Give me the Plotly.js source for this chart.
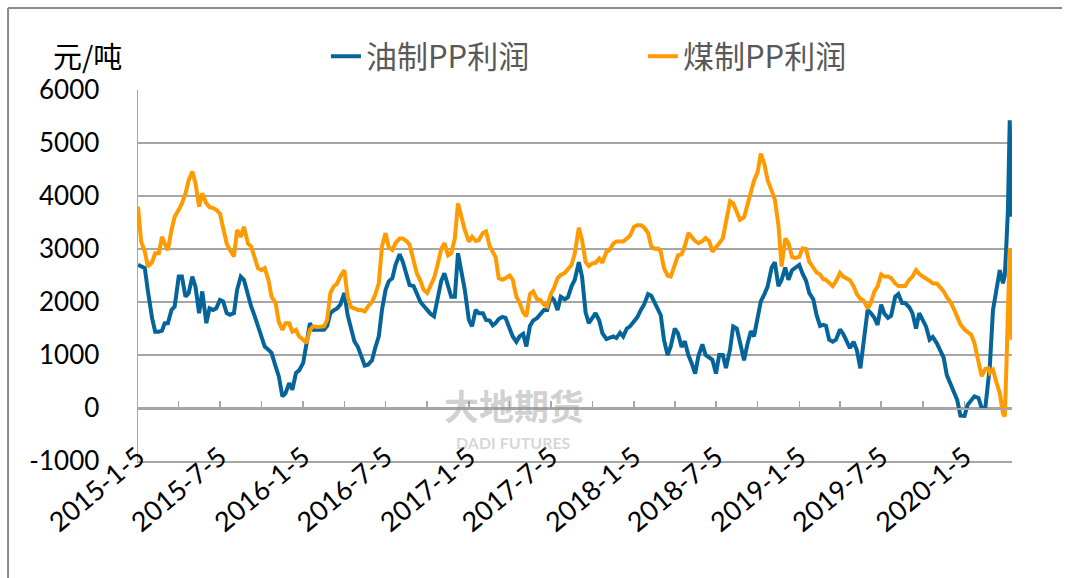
<!DOCTYPE html>
<html><head><meta charset="utf-8">
<script src="https://cdn.plot.ly/plotly-3.0.1.min.js"></script>
<style>html,body{margin:0;padding:0;background:#fff;} #chart{width:1068px;height:578px;}</style>
</head><body><div id="chart"></div>
<script>
const dates = [
"2015-01-05","2015-01-12","2015-01-20","2015-01-27","2015-02-05","2015-02-12","2015-02-20","2015-02-27",
"2015-03-05","2015-03-12","2015-03-20","2015-03-27","2015-04-05","2015-04-12","2015-04-20","2015-04-27",
"2015-05-05","2015-05-12","2015-05-20","2015-05-27","2015-06-05","2015-06-12","2015-06-20","2015-06-27",
"2015-07-05","2015-07-12","2015-07-20","2015-07-27","2015-08-05","2015-08-12","2015-08-20","2015-08-27",
"2015-09-05","2015-09-12","2015-09-20","2015-09-27","2015-10-05","2015-10-12","2015-10-20","2015-10-27",
"2015-11-05","2015-11-12","2015-11-20","2015-11-27","2015-12-05","2015-12-12","2015-12-20","2015-12-27",
"2016-01-05","2016-01-12","2016-01-20","2016-01-27","2016-02-05","2016-02-12","2016-02-20","2016-02-27",
"2016-03-05","2016-03-12","2016-03-20","2016-03-27","2016-04-05","2016-04-12","2016-04-20","2016-04-27",
"2016-05-05","2016-05-12","2016-05-20","2016-05-27","2016-06-05","2016-06-12","2016-06-20","2016-06-27",
"2016-07-05","2016-07-12","2016-07-20","2016-07-27","2016-08-05","2016-08-12","2016-08-20","2016-08-27",
"2016-09-05","2016-09-12","2016-09-20","2016-09-27","2016-10-05","2016-10-12","2016-10-20","2016-10-27",
"2016-11-05","2016-11-12","2016-11-20","2016-11-27","2016-12-05","2016-12-12","2016-12-20","2016-12-27",
"2017-01-05","2017-01-12","2017-01-20","2017-01-27","2017-02-05","2017-02-12","2017-02-20","2017-02-27",
"2017-03-05","2017-03-12","2017-03-20","2017-03-27","2017-04-05","2017-04-12","2017-04-20","2017-04-27",
"2017-05-05","2017-05-12","2017-05-20","2017-05-27","2017-06-05","2017-06-12","2017-06-20","2017-06-27",
"2017-07-05","2017-07-12","2017-07-20","2017-07-27","2017-08-05","2017-08-12","2017-08-20","2017-08-27",
"2017-09-05","2017-09-12","2017-09-20","2017-09-27","2017-10-05","2017-10-12","2017-10-20","2017-10-27",
"2017-11-05","2017-11-12","2017-11-20","2017-11-27","2017-12-05","2017-12-12","2017-12-20","2017-12-27",
"2018-01-05","2018-01-12","2018-01-20","2018-01-27","2018-02-05","2018-02-12","2018-02-20","2018-02-27",
"2018-03-05","2018-03-12","2018-03-20","2018-03-27","2018-04-05","2018-04-12","2018-04-20","2018-04-27",
"2018-05-05","2018-05-12","2018-05-20","2018-05-27","2018-06-05","2018-06-12","2018-06-20","2018-06-27",
"2018-07-05","2018-07-12","2018-07-20","2018-07-27","2018-08-05","2018-08-12","2018-08-20","2018-08-27",
"2018-09-05","2018-09-12","2018-09-20","2018-09-27","2018-10-05","2018-10-12","2018-10-20","2018-10-27",
"2018-11-05","2018-11-12","2018-11-20","2018-11-27","2018-12-05","2018-12-12","2018-12-20","2018-12-27",
"2019-01-05","2019-01-12","2019-01-20","2019-01-27","2019-02-05","2019-02-12","2019-02-20","2019-02-27",
"2019-03-05","2019-03-12","2019-03-20","2019-03-27","2019-04-05","2019-04-12","2019-04-20","2019-04-27",
"2019-05-05","2019-05-12","2019-05-20","2019-05-27","2019-06-05","2019-06-12","2019-06-20","2019-06-27",
"2019-07-05","2019-07-12","2019-07-20","2019-07-27","2019-08-05","2019-08-12","2019-08-20","2019-08-27",
"2019-09-05","2019-09-12","2019-09-20","2019-09-27","2019-10-05","2019-10-12","2019-10-20","2019-10-27",
"2019-11-05","2019-11-12","2019-11-20","2019-11-27","2019-12-05","2019-12-12","2019-12-20","2019-12-27",
"2020-01-05","2020-01-12","2020-01-20","2020-01-27","2020-02-05","2020-02-12","2020-02-20","2020-02-27",
"2020-03-01","2020-03-08","2020-03-16","2020-03-23","2020-03-30","2020-04-03","2020-04-06","2020-04-10",
"2020-04-14","2020-04-16","2020-04-18"
];
const oilPP = [
2700,2680,2640,2200,1700,1440,1440,1460, 1600,1600,1850,1915,2480,2480,2100,2170,
2480,2290,1790,2200,1600,1880,1850,1880, 2040,2010,1790,1760,1790,2230,2480,2420,
2100,1915,1730,1540,1290,1160,1100,1040, 785,600,220,280,470,345,660,710,
850,1225,1600,1475,1480,1475,1475,1550, 1790,1840,1880,1950,2170,1760,1500,1260,
1150,1005,800,815,900,1130,1350,1850, 2230,2390,2450,2700,2900,2760,2500,2320,
2300,2170,2000,1930,1850,1780,1730,2040, 2400,2540,2300,2100,2100,2920,2550,2230,
1660,1540,1850,1790,1790,1660,1650,1560, 1600,1680,1720,1700,1500,1350,1250,1350,
1400,1160,1550,1650,1700,1780,1850,1850, 2100,2040,1850,2100,2050,2090,2300,2420,
2750,2480,1800,1600,1700,1790,1650,1410, 1300,1320,1350,1320,1420,1350,1500,1540,
1650,1710,1850,1950,2150,2120,1980,1850, 1750,1290,1000,1160,1500,1410,1150,1260,
1000,850,650,975,1200,1000,950,910, 650,1000,1000,755,1100,1540,1500,1225,
900,1190,1450,1350,1750,2010,2150,2290, 2650,2750,2300,2420,2650,2420,2600,2640,
2700,2540,2400,2170,2050,1760,1550,1570, 1550,1290,1250,1290,1480,1400,1250,1130,
1250,1100,750,1290,1850,1790,1700,1570, 1950,1780,1700,1740,2100,2150,1980,1980,
1900,1790,1500,1790,1660,1540,1290,1340, 1220,1090,950,620,450,290,150,-145,
-150,60,150,220,190,0,0,470, 785,1850,2230,2600,2355,2500,2980,3740,
5430,4360,3610
];
const coalPP = [
3800,3140,2950,2670,2750,2920,2920,3230, 3100,2980,3360,3610,3740,3860,4050,4300,
4460,4240,3800,4050,3860,3790,3770,3740, 3670,3360,3100,2980,2860,3360,3230,3420,
3100,3050,2800,2640,2600,2640,2420,2100, 1980,1630,1475,1600,1600,1440,1475,1350,
1290,1225,1475,1540,1530,1530,1540,1665, 2170,2290,2350,2480,2600,2100,1900,1880,
1850,1850,1820,1915,2000,2135,2350,3050, 3300,3030,2980,3110,3200,3200,3150,3080,
2800,2540,2400,2230,2170,2300,2450,2670, 3000,3110,2880,2920,3200,3860,3550,3360,
3140,3230,3150,3170,3300,3330,3050,2920, 2850,2450,2420,2450,2500,2420,2100,1990,
1800,1730,2150,2200,2050,2040,1950,1915, 2150,2260,2450,2510,2550,2620,2700,2920,
3400,3170,2750,2680,2730,2740,2820,2740, 2950,2980,3100,3140,3150,3140,3200,3250,
3420,3450,3450,3410,3300,3050,3000,3010, 2950,2640,2500,2480,2700,2880,2900,3050,
3300,3230,3150,3110,3150,3210,3150,2950, 3050,3110,3200,3490,3900,3860,3700,3550,
3600,3830,4100,4290,4450,4800,4600,4300, 4100,3930,3450,2670,3200,3110,2850,2830,
2850,3010,3000,2760,2650,2560,2520,2430, 2420,2370,2300,2390,2550,2480,2450,2410,
2300,2150,2060,2030,1880,1980,2200,2290, 2520,2480,2480,2450,2350,2300,2300,2300,
2420,2480,2600,2530,2480,2450,2400,2350, 2350,2280,2200,2090,2000,1880,1700,1580,
1480,1430,1380,1225,830,600,740,750, 660,720,470,280,-100,-160,600,1850,
2980,2980,1290
];
const seriesNames = ["油制PP利润", "煤制PP利润"];
const unitLabel = "元/吨";
const yTickVals = [-1000, 0, 1000, 2000, 3000, 4000, 5000, 6000];
const yTickText = ["-1000", "0", "1000", "2000", "3000", "4000", "5000", "6000"];
const xRange = ["2015-01-05", "2020-04-19"];
const yRange = [-1000, 6000];
const watermarkCN = "大地期货";
const watermarkEN = "DADI FUTURES";

const gridGray = "#A6A6A6";
const traces = [
  {type: "scatter", mode: "lines", x: dates, y: oilPP, name: seriesNames[0], line: {color: "#05659B", width: 4}},
  {type: "scatter", mode: "lines", x: dates, y: coalPP, name: seriesNames[1], line: {color: "#FF9A00", width: 4}},
  {type: "scatter", mode: "lines", x: [], y: [], xaxis: "x2", yaxis: "y", showlegend: false, hoverinfo: "skip"},
  {type: "scatter", mode: "lines", x: [], y: [], xaxis: "x3", yaxis: "y", showlegend: false, hoverinfo: "skip"}
];
const layout = {
  width: 1068, height: 578,
  margin: {l: 138, r: 56, t: 90, b: 117},
  paper_bgcolor: "#fff", plot_bgcolor: "#fff",
  font: {family: "Lato, 'Noto Sans CJK SC', sans-serif", size: 25, color: "#000"},
  showlegend: true,
  legend: {orientation: "h", x: 0.215, xanchor: "left", y: 1.09, yanchor: "middle",
    font: {family: "'Noto Sans CJK SC', sans-serif", size: 31, color: "#595959"},
    entrywidth: 272, bgcolor: "rgba(0,0,0,0)"},
  xaxis: {type: "date", range: xRange, showgrid: false, showline: true, linecolor: gridGray, linewidth: 1.5,
    ticks: "", showticklabels: false, zeroline: false},
  xaxis2: {type: "date", overlaying: "x", anchor: "free", position: 1/7, range: xRange,
    tick0: "2015-01-05", dtick: "M3", ticks: "inside", ticklen: 7, tickwidth: 1.5, tickcolor: gridGray,
    showticklabels: false, showline: true, linecolor: gridGray, linewidth: 1.5, showgrid: false, zeroline: false},
  xaxis3: {type: "date", overlaying: "x", anchor: "free", position: 0.07, range: xRange,
    tick0: "2015-01-05", dtick: "M6", tickformat: "%Y-%-m-%-d", tickangle: -40, ticks: "",
    showline: false, showgrid: false, zeroline: false, tickfont: {size: 27, color: "#000"}},
  yaxis: {range: yRange, tickvals: yTickVals, ticktext: yTickText, showgrid: true, gridcolor: gridGray, gridwidth: 1.5,
    showline: true, linecolor: gridGray, linewidth: 1.5, zeroline: false, ticks: "", ticklabelstandoff: 32,
    tickfont: {size: 26, color: "#000"}},
  annotations: [
    {text: unitLabel, xref: "paper", yref: "paper", x: -0.058, y: 1.094, xanchor: "center", yanchor: "middle", showarrow: false,
      font: {family: "'Noto Sans CJK SC', sans-serif", size: 29, color: "#000"}},
    {text: "<b>" + watermarkCN + "</b>", xref: "paper", yref: "paper", x: 0.43, y: 0.153, xanchor: "center", yanchor: "middle", showarrow: false,
      font: {family: "'Noto Sans CJK SC', sans-serif", size: 35, color: "rgba(150,150,150,0.45)"}},
    {text: "<b>" + watermarkEN + "</b>", xref: "paper", yref: "paper", x: 0.43, y: 0.05, xanchor: "center", yanchor: "middle", showarrow: false,
      font: {family: "Lato, sans-serif", size: 16, color: "rgba(150,150,150,0.4)"}}
  ],
  shapes: [
    {type: "line", xref: "paper", yref: "paper", x0: -0.1487, x1: -0.1487, y0: -0.33, y1: 1.221, line: {color: "#8a8a8a", width: 2}},
    {type: "line", xref: "paper", yref: "paper", x0: -0.1487, x1: 1.0572, y0: 1.221, y1: 1.221, line: {color: "#8a8a8a", width: 2}}
  ]
};
Plotly.newPlot("chart", traces, layout, {staticPlot: true});
</script>
</body></html>
